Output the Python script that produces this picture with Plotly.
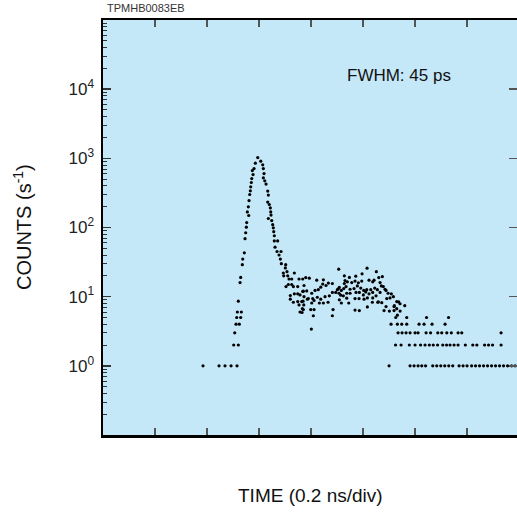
import plotly.graph_objects as go

# ---- data (time in divisions of 0.2 ns, counts per second) ----
base_t = [1.923, 2.231, 2.346, 2.462, 2.577]
base_c = [1, 1, 1, 1, 1]

peak_t = [2.513, 2.602, 2.533, 2.558, 2.621, 2.571, 2.648, 2.583, 2.660, 2.602,
          2.635, 2.648, 2.679, 2.687, 2.717, 2.731, 2.744, 2.756, 2.763, 2.775,
          2.802, 2.794, 2.808, 2.821, 2.833, 2.840, 2.852, 2.860, 2.871, 2.885,
          2.904, 2.929, 2.975, 3.033, 3.071, 3.083, 3.096, 3.083, 3.110, 3.135,
          3.167, 3.179, 3.167, 3.198, 3.217, 3.225, 3.231, 3.179, 3.244, 3.263,
          3.275, 3.283, 3.294, 3.294, 3.358, 3.308, 3.346, 3.423, 3.385, 3.410,
          3.429, 3.513, 3.506, 3.538, 3.467, 3.679, 3.475, 3.552, 3.577, 3.629,
          3.769, 3.840]
peak_c = [2, 2, 3, 4, 4, 5, 5, 6, 6, 8.6,
          16, 19, 29, 35, 43, 69, 84, 101, 118, 168,
          149, 199, 245, 300, 339, 387, 447, 510, 666, 583,
          711, 851, 1026, 910, 805, 711, 603, 522, 473, 424,
          336, 294, 233, 215, 192, 168, 151, 135, 126, 110,
          99, 87, 76, 64, 64, 52, 45, 45, 40, 35,
          30, 29, 26, 23, 22, 22, 20, 20, 18, 18,
          18, 18]

bump_t = [3.563, 3.519, 3.629, 3.660, 3.744, 3.865, 3.852, 3.679, 3.744, 3.602,
          3.602, 3.660, 3.744, 3.846, 3.769, 3.860, 3.833, 3.827, 4.006,
          3.898, 3.967, 4.110, 4.237, 4.410, 3.840, 3.917, 4.013, 4.077, 4.140,
          4.187, 4.225, 4.288, 4.333, 3.788, 3.865, 3.948, 4.033, 4.121, 4.187,
          4.269, 4.352, 3.821, 3.852, 3.788, 3.929, 4.013, 4.058, 4.160, 4.237,
          4.327, 4.410, 4.475, 4.506, 4.544, 3.994, 4.058, 4.044, 4.423, 4.410,
          4.532, 4.640, 4.737, 4.860, 4.981, 5.077, 5.256, 5.302, 5.371, 4.654,
          4.640, 4.698, 4.783, 4.846, 4.910, 4.975, 5.115, 5.186, 5.212, 5.327,
          5.352, 4.525, 4.583, 4.629, 4.673, 4.750, 4.827, 4.890, 4.956, 5.013,
          5.071, 5.148, 5.225, 5.275, 5.390, 5.423, 4.538, 4.571, 4.621, 4.686,
          4.750, 4.865, 4.929, 5.006, 5.052, 5.115, 5.186, 5.250, 5.327, 5.442,
          5.481, 4.544, 4.583, 4.686, 4.725, 4.846, 4.923, 5.019, 5.083, 5.186,
          5.294, 5.360, 5.456, 5.519, 5.544, 4.846, 4.929, 5.083, 5.179, 5.283,
          5.404, 5.442, 5.583, 5.686, 5.802, 5.602, 5.648, 5.712, 5.596, 5.629,
          5.840, 5.506, 5.648, 5.712, 5.596, 5.660, 6.221, 6.644]
bump_c = [15, 14, 15, 14, 14, 14.5, 12, 11, 11, 10.4,
          9.2, 8.3, 8.5, 8.6, 7.6, 7.6, 6.7, 5.9, 3.4,
          18.9, 18.5, 17.3, 17.5, 15.5, 11.9, 12.1, 11.2, 12.3, 12.6,
          13.7, 15.2, 14.5, 15.7, 10.6, 10.0, 9.4, 9.4, 9.8, 9.2,
          10.0, 10.3, 8.5, 6.5, 6.0, 9.2, 8.1, 8.8, 8.1, 8.1,
          8.3, 11.5, 11.5, 12.6, 13.6, 6.5, 6.5, 5.3, 6.5, 5.3,
          25, 20, 19, 19.8, 21.4, 25.8, 23, 18.9, 19.5, 17.1,
          15.5, 16.4, 16, 16.8, 15.9, 16.8, 17.3, 16.4, 17.3, 16,
          14.3, 13, 12.3, 13.1, 14, 12.8, 13.1, 14.3, 13.3, 12.3,
          12.6, 12.6, 13.3, 12.6, 14, 12.8, 11.2, 10.5, 10.3, 11.2,
          11.2, 11.5, 11.5, 10.6, 11.7, 11, 11.5, 10.3, 11.5, 12.3,
          11.2, 9.0, 8.1, 9.5, 8.1, 9.4, 9.4, 9.2, 9.6, 9.6,
          8.4, 8.2, 9.4, 9.6, 11, 6.4, 6.3, 7.1, 8.3, 8.3,
          6.3, 7.2, 10.0, 8.4, 7.4, 7.4, 6.7, 6.2, 6.3, 5,
          5, 6.2, 8.5, 7.9, 7.2, 5.4, 5, 5]

tail4_t = [5.538, 5.660, 5.744, 5.840, 6.077, 6.173, 6.327, 6.577]
tail3_t = [5.673, 5.750, 5.827, 5.904, 6.000, 6.058, 6.212, 6.298, 6.437, 6.513,
           6.610, 6.698, 6.827, 6.898, 7.654]
tail2_t = [5.625, 5.731, 5.890, 6.000, 6.106, 6.192, 6.275, 6.350, 6.433, 6.533,
           6.606, 6.673, 6.750, 6.827, 6.967, 7.110, 7.188, 7.337, 7.413, 7.490,
           7.654]
tail1_t = [5.500, 5.904, 5.981, 6.058, 6.129, 6.202, 6.340, 6.417, 6.494, 6.571,
           6.648, 6.725, 6.846, 6.923, 7.000, 7.087, 7.163, 7.240, 7.317, 7.394,
           7.471, 7.548, 7.625, 7.702, 7.779, 7.856, 7.923]

y_tickvals = [1, 10, 100, 1000, 10000]
y_ticktext = ["10<sup>0</sup>", "10<sup>1</sup>", "10<sup>2</sup>",
              "10<sup>3</sup>", "10<sup>4</sup>"]

x_title = "TIME (0.2 ns/div)"
y_title = "COUNTS (s<sup>-1</sup>)"
fwhm_text = "FWHM: 45 ps"
code_text = "TPMHB0083EB"

t_all = base_t + peak_t + bump_t + tail4_t + tail3_t + tail2_t + tail1_t
c_all = (base_c + peak_c + bump_c + [4] * len(tail4_t) + [3] * len(tail3_t)
         + [2] * len(tail2_t) + [1] * len(tail1_t))

FONT = "Liberation Sans, Arial, Helvetica, sans-serif"

fig = go.Figure()
fig.add_trace(go.Scatter(x=t_all, y=c_all, mode="markers",
                         marker=dict(size=3.2, color="black", line=dict(width=0)),
                         hoverinfo="skip", showlegend=False))
# invisible copy to carry the right-hand tick axis
fig.add_trace(go.Scatter(x=t_all, y=c_all, mode="markers", yaxis="y2",
                         marker=dict(size=1, opacity=0), hoverinfo="skip",
                         showlegend=False))

fig.update_layout(
    width=517, height=518,
    margin=dict(l=103, r=0, t=20, b=83),
    paper_bgcolor="white",
    plot_bgcolor="#C5E8F8",
    font=dict(family=FONT, color="black"),
    xaxis=dict(range=[0, 7.96], tick0=0, dtick=1, ticks="inside", ticklen=7,
               tickwidth=1.5, tickcolor="#555", showline=True, linecolor="black",
               linewidth=2.5, mirror="ticks", showgrid=False, zeroline=False,
               showticklabels=False),
    yaxis=dict(type="log", range=[-1, 5], tickmode="array", tickvals=y_tickvals,
               ticktext=y_ticktext, ticks="inside", ticklen=8, tickwidth=1.5,
               tickcolor="#333", showline=True, linecolor="black", linewidth=2.5,
               mirror=False, showgrid=False, zeroline=False,
               tickfont=dict(size=17, family=FONT, color="#222"),
               ticklabelstandoff=3,
               minor=dict(tickmode="linear", dtick="D1", ticks="inside", ticklen=4,
                          tickwidth=1, tickcolor="#333", showgrid=False)),
    yaxis2=dict(type="log", range=[-1, 5], overlaying="y", side="right", anchor="x",
                tickmode="array", tickvals=y_tickvals, ticks="inside", ticklen=8,
                tickwidth=1.5, tickcolor="#555", showticklabels=False,
                showline=False, showgrid=False, zeroline=False),
    annotations=[
        dict(text=x_title, xref="paper", yref="paper", x=0.5, y=-0.1446,
             xanchor="center", yanchor="middle", showarrow=False,
             font=dict(size=19, family=FONT, color="#111")),
        dict(text=y_title, xref="paper", yref="paper", x=-0.1944, y=0.5,
             xanchor="center", yanchor="middle", textangle=-90, showarrow=False,
             font=dict(size=20, family=FONT, color="#111")),
        dict(text=fwhm_text, xref="paper", yref="paper", x=0.715, y=0.867,
             xanchor="center", yanchor="middle", showarrow=False,
             font=dict(size=17, family=FONT, color="#111")),
        dict(text=code_text, xref="paper", yref="paper", x=0.005, y=1.029,
             xanchor="left", yanchor="middle", showarrow=False,
             font=dict(size=11, family=FONT, color="#333")),
    ],
)

# remove the browser's default page margin so the figure fills the window
fig.write_html("out.html",
               config={"displayModeBar": False, "staticPlot": True},
               post_script="document.body.style.margin='0';"
                           "document.body.style.padding='0';")
